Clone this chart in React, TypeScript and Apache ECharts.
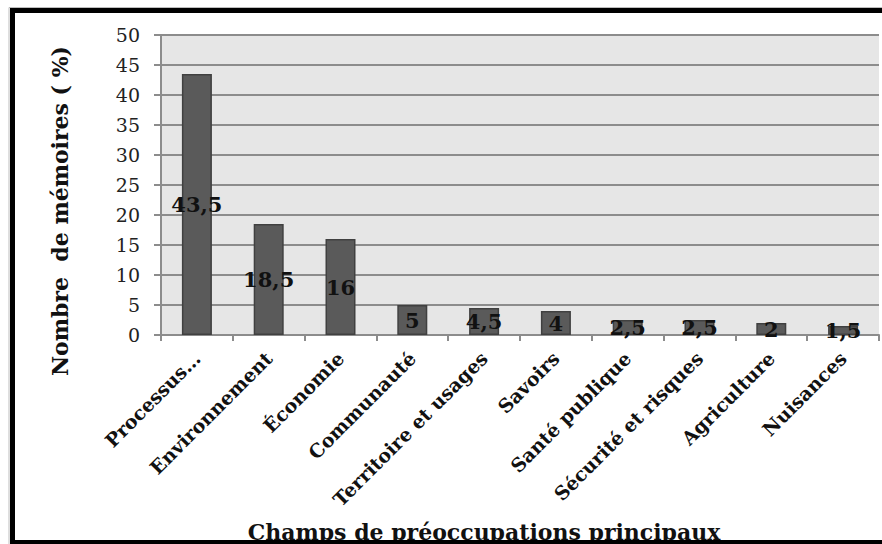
import React, { useEffect, useRef } from "react";
import * as echarts from "echarts";

const categories = [
  "Processus…",
  "Environnement",
  "Économie",
  "Communauté",
  "Territoire et usages",
  "Savoirs",
  "Santé publique",
  "Sécurité et risques",
  "Agriculture",
  "Nuisances",
];
const values = [43.5, 18.5, 16, 5, 4.5, 4, 2.5, 2.5, 2, 1.5];
const yTitle = "Nombre  de mémoires ( %)";
const xTitle = "Champs de préoccupations principaux";

const SERIF = "'DejaVu Serif', serif";

export default function App() {
  const ref = useRef<HTMLDivElement>(null);
  useEffect(() => {
    if (!ref.current) return;
    const chart = echarts.init(ref.current, null, { renderer: "svg" });
    chart.setOption({
      animation: false,
      backgroundColor: "#ffffff",
      grid: {
        left: 161,
        top: 35,
        width: 718,
        height: 300,
        show: true,
        backgroundColor: "#e6e6e6",
        borderWidth: 0,
        containLabel: false,
      },
      xAxis: {
        type: "category",
        data: categories,
        axisLine: { show: true, lineStyle: { color: "#8c8c8c", width: 2 } },
        axisTick: { show: true, length: 6, lineStyle: { color: "#8c8c8c", width: 2 } },
        axisLabel: {
          rotate: 45,
          interval: 0,
          margin: 20,
          color: "#111",
          fontFamily: SERIF,
          fontWeight: "bold",
          fontSize: 19,
        },
      },
      yAxis: {
        type: "value",
        min: 0,
        max: 50,
        interval: 5,
        axisLine: { show: true, lineStyle: { color: "#8c8c8c", width: 2 } },
        axisTick: { show: true, length: 7, lineStyle: { color: "#8c8c8c", width: 2 } },
        splitLine: { show: true, lineStyle: { color: "#8c8c8c", width: 2 } },
        axisLabel: {
          margin: 21,
          color: "#222",
          fontFamily: SERIF,
          fontSize: 19,
        },
      },
      series: [
        {
          type: "bar",
          data: values,
          barWidth: 30,
          itemStyle: { color: "#5a5a5a", borderColor: "#404040", borderWidth: 1.5 },
          label: {
            show: true,
            position: "inside",
            color: "#111",
            fontFamily: SERIF,
            fontWeight: "bold",
            fontSize: 21,
            formatter: (p: any) => String(p.value).replace(".", ","),
          },
        },
      ],
      graphic: [
        {
          type: "text",
          x: 60,
          y: 211,
          rotation: Math.PI / 2,
          z: 10,
          style: {
            text: yTitle,
            fill: "#111",
            font: `bold 22px ${SERIF}`,
            align: "center",
            verticalAlign: "middle",
          },
        },
        {
          type: "text",
          x: 484,
          y: 543,
          z: 10,
          style: {
            text: xTitle,
            fill: "#111",
            font: `bold 22px ${SERIF}`,
            align: "center",
            verticalAlign: "bottom",
          },
        },
        {
          type: "rect",
          z: 20,
          shape: { x: 12.5, y: 10.5, width: 900, height: 532 },
          style: { fill: "none", stroke: "#000", lineWidth: 5 },
        },
        {
          type: "rect",
          z: 19,
          shape: { x: 9, y: 7.5, width: 900, height: 540 },
          style: { fill: "none", stroke: "#bdbdbd", lineWidth: 1 },
        },
      ],
    });
    return () => chart.dispose();
  }, []);
  return (
    <div
      ref={ref}
      style={{ position: "fixed", left: 0, top: 0, width: 882, height: 544 }}
    />
  );
}
